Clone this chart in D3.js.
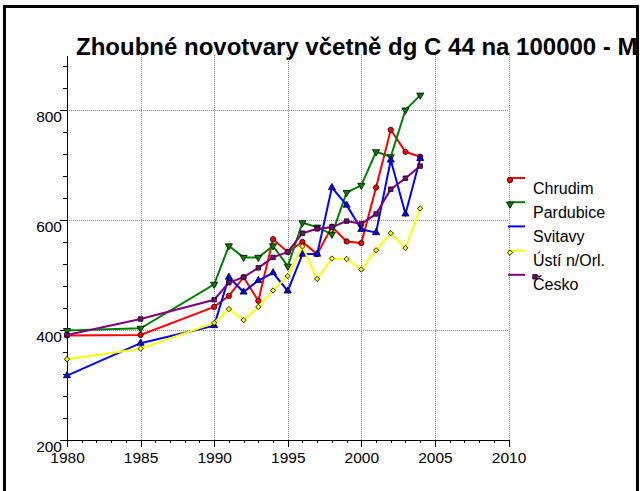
<!DOCTYPE html>
<html>
<head>
<meta charset="utf-8">
<script src="https://cdn.jsdelivr.net/npm/d3@7"></script>
<style>
  body { margin: 0; background: #fff; }
  svg { display: block; font-family: "Liberation Sans", Arial, sans-serif; }
</style>
</head>
<body>
<svg id="chart-svg" width="640" height="491"></svg>
<script>
// data
var years     = [1980, 1985, 1990, 1991, 1992, 1993, 1994, 1995, 1996, 1997, 1998, 1999, 2000, 2001, 2002, 2003, 2004]
var chrudim   = [390, 391, 442, 462, 496, 453, 565, 542, 560, 538, 588, 561, 558, 659, 764, 724, 715]
var pardubice = [399, 403, 483, 553, 532, 532, 553, 516, 595, 587, 574, 650, 663, 724, 715, 800, 827]
var svitavy   = [317, 376, 408, 496, 469, 490, 504, 471, 538, 538, 659, 627, 583, 577, 709, 611, 712]
var usti      = [347, 366, 413, 438, 418, 442, 472, 498, 552, 493, 530, 529, 510, 545, 576, 549, 621]
var cesko     = [391, 420, 455, 486, 496, 513, 532, 542, 576, 584, 587, 598, 593, 611, 656, 676, 698]

var seriesNames = ["Chrudim", "Pardubice", "Svitavy", "Ústí n/Orl.", "Česko"]
var seriesVals  = [chrudim, pardubice, svitavy, usti, cesko]
var colors      = ["#ff0000", "#008000", "#0000ff", "#ffff00", "#800080"]
var symbols     = ["circle", "down", "up", "diamond", "square"]

var xMajor = [1980, 1985, 1990, 1995, 2000, 2005, 2010]
var yMajor = [200, 400, 600, 800]
var titleText = "Zhoubné novotvary včetně dg C 44 na 100000 - M"

var svg = d3.select("#chart-svg")

var x = d3.scaleLinear().domain([1980, 2010]).range([67, 508.5])
var y = d3.scaleLinear().domain([200, 900]).range([440, 55])

svg.append("defs").append("clipPath")
  .attr("id", "frameclip")
  .append("rect")
  .attr("x", 6).attr("y", 8)
  .attr("width", 630).attr("height", 490)

// frame
svg.append("path")
  .attr("d", "M4.5,495 L4.5,6.5 L637.5,6.5 L637.5,495")
  .attr("fill", "none")
  .attr("stroke", "#000")
  .attr("stroke-width", 3)

svg.append("text")
  .attr("clip-path", "url(#frameclip)")
  .attr("x", 76)
  .attr("y", 55)
  .attr("font-size", 24)
  .attr("font-weight", "bold")
  .text(titleText)

// grid
var grid = svg.append("g")
  .attr("stroke", "#8c8c8c")
  .attr("stroke-width", 1)
  .attr("stroke-dasharray", "1,1")

grid.selectAll(".vgrid")
  .data(xMajor.slice(1))
  .enter().append("line")
    .attr("x1", function(d) { return Math.round(x(d)) + 0.5 })
    .attr("x2", function(d) { return Math.round(x(d)) + 0.5 })
    .attr("y1", y(900))
    .attr("y2", y(200))

grid.selectAll(".hgrid")
  .data(yMajor.slice(1))
  .enter().append("line")
    .attr("x1", x(1980))
    .attr("x2", x(2010))
    .attr("y1", function(d) { return Math.round(y(d)) + 0.5 })
    .attr("y2", function(d) { return Math.round(y(d)) + 0.5 })

// axes
var xAxis = d3.axisBottom(x).tickValues(xMajor).tickSize(7).tickSizeOuter(0).tickFormat(d3.format("d"))
var xMinor = d3.axisBottom(x).tickValues(d3.range(1980, 2011)).tickSize(3).tickSizeOuter(0).tickFormat("")
var yAxis = d3.axisLeft(y).tickValues(yMajor).tickSize(7).tickSizeOuter(0).tickFormat(d3.format("d"))
var yMinor = d3.axisLeft(y).tickValues(d3.range(200, 901, 40)).tickSize(4).tickSizeOuter(0).tickFormat("")

function styleAxis(g) {
  g.attr("font-family", null).attr("font-size", 15.5)
  g.selectAll("path, line").attr("stroke", "#000").attr("shape-rendering", "crispEdges")
  g.selectAll("text").attr("fill", "#000")
}

svg.append("g").attr("transform", "translate(0,440)").call(xMinor).call(styleAxis)
svg.append("g").attr("transform", "translate(0,440)").call(xAxis).call(styleAxis)
  .selectAll("text").attr("dy", null).attr("y", 23)
svg.append("g").attr("transform", "translate(67,0)").call(yMinor).call(styleAxis)
svg.append("g").attr("transform", "translate(67,0)").call(yAxis).call(styleAxis)
  .selectAll("text").attr("dy", null).attr("x", -5).attr("y", 11.5)

// series
var line = d3.line()
  .x(function(d) { return x(d[0]) })
  .y(function(d) { return y(d[1]) })

function markerPath(i) {
  var s = symbols[i]
  if (s == "circle") return d3.symbol().type(d3.symbolCircle).size(22)()
  if (s == "up" || s == "down") return d3.symbol().type(d3.symbolTriangle).size(22)()
  if (s == "diamond") return d3.symbol().type(d3.symbolSquare).size(14)()
  return d3.symbol().type(d3.symbolSquare).size(20)()
}
function markerRot(i) {
  if (symbols[i] == "down") return " rotate(180)"
  if (symbols[i] == "diamond") return " rotate(45)"
  return ""
}

seriesVals.forEach(function(vals, i) {
  var pts = years.map(function(yr, k) { return [yr, vals[k]] })
  var g = svg.append("g")
  g.append("path")
    .datum(pts)
    .attr("fill", "none")
    .attr("stroke", colors[i])
    .attr("stroke-width", 2)
    .attr("d", line)
  g.selectAll(".pt")
    .data(pts)
    .enter().append("path")
      .attr("class", "pt")
      .attr("d", markerPath(i))
      .attr("transform", function(d) { return "translate(" + x(d[0]) + "," + y(d[1]) + ")" + markerRot(i) })
      .attr("fill", colors[i])
      .attr("stroke", "#000")
      .attr("stroke-width", 0.8)
})

// legend
var legend = svg.append("g").attr("transform", "translate(508,178)")
seriesNames.forEach(function(name, i) {
  var row = legend.append("g").attr("transform", "translate(0," + (i * 24.2) + ")")
  row.append("line")
    .attr("x1", 0).attr("x2", 17)
    .attr("y1", 0).attr("y2", 0)
    .attr("stroke", colors[i])
    .attr("stroke-width", 2)
  var mx = (i == 4) ? 27 : 2
  if (i != 2) {
    row.append("path")
      .attr("d", markerPath(i))
      .attr("transform", "translate(" + mx + ",2)" + markerRot(i))
      .attr("fill", colors[i])
      .attr("stroke", "#000")
      .attr("stroke-width", 0.8)
  }
  row.append("text")
    .attr("x", 25)
    .attr("y", 15.5)
    .attr("font-size", 16)
    .text(name)
})
</script>
</body>
</html>
